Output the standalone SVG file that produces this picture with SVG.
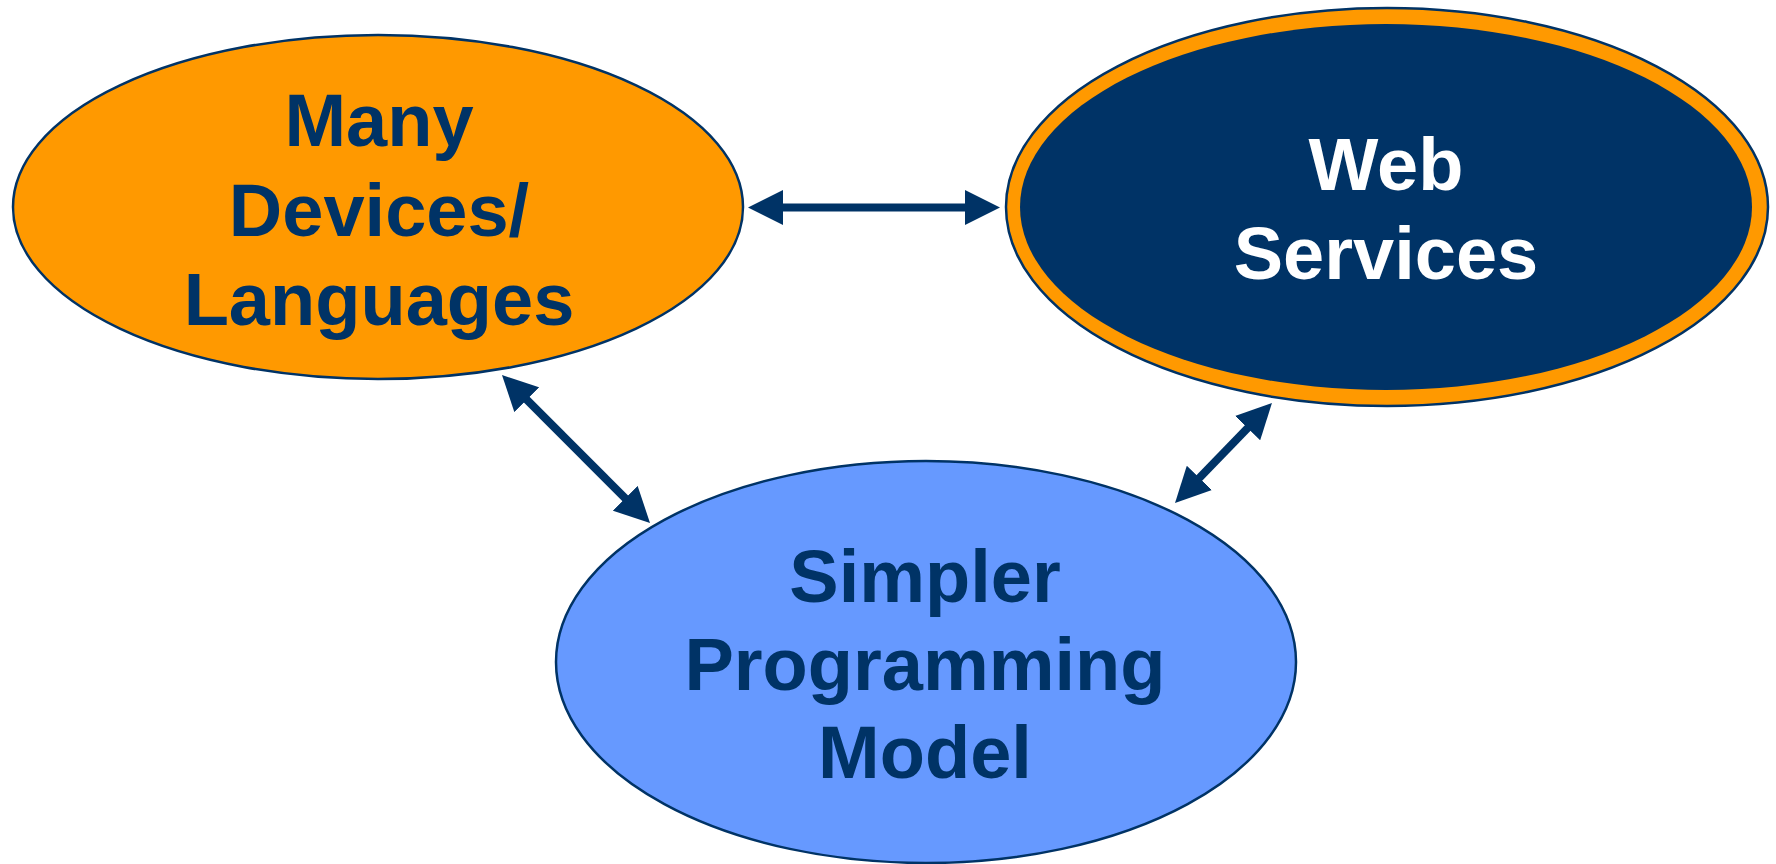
<svg xmlns="http://www.w3.org/2000/svg" width="1776" height="864" viewBox="0 0 1776 864">
<style>
.lbl{font-family:"Liberation Sans",Arial,sans-serif;font-weight:bold;font-size:74px;text-anchor:middle}
.dark{fill:#003366}
.light{fill:#ffffff}
.edge{fill:none;stroke:#003366;stroke-width:8}
</style>
<defs>
<marker id="ah" markerUnits="userSpaceOnUse" markerWidth="35" markerHeight="35" refX="5" refY="17.5" orient="auto-start-reverse" viewBox="0 0 35 35">
<path d="M0,0 L35,17.5 L0,35 z" fill="#003366"/>
</marker>
</defs>
<rect width="1776" height="864" fill="#ffffff"/>
<g id="many-devices">
<ellipse cx="378" cy="207" rx="365" ry="172" fill="#FF9900" stroke="#003366" stroke-width="2.5"/>
<text class="lbl dark" x="379" y="146">Many</text>
<text class="lbl dark" x="379" y="236">Devices/</text>
<text class="lbl dark" x="379" y="325">Languages</text>
</g>
<g id="web-services">
<ellipse cx="1387" cy="207" rx="381" ry="199" fill="#FF9900" stroke="#003366" stroke-width="2.5"/>
<ellipse cx="1386" cy="207" rx="366" ry="183" fill="#003366"/>
<text class="lbl light" x="1386" y="190">Web</text>
<text class="lbl light" x="1386" y="279">Services</text>
</g>
<g id="simpler-programming-model">
<ellipse cx="926" cy="662" rx="370" ry="201" fill="#6699FF" stroke="#003366" stroke-width="2.5"/>
<text class="lbl dark" x="925" y="602">Simpler</text>
<text class="lbl dark" x="925" y="690">Programming</text>
<text class="lbl dark" x="925" y="778">Model</text>
</g>
<g id="connectors">
<line class="edge" x1="778" y1="207.5" x2="970" y2="207.5" marker-start="url(#ah)" marker-end="url(#ah)"/>
<line class="edge" x1="523.2" y1="396.2" x2="628.8" y2="501.8" marker-start="url(#ah)" marker-end="url(#ah)"/>
<line class="edge" x1="1251.1" y1="424.5" x2="1195.9" y2="481.5" marker-start="url(#ah)" marker-end="url(#ah)"/>
</g>
</svg>
